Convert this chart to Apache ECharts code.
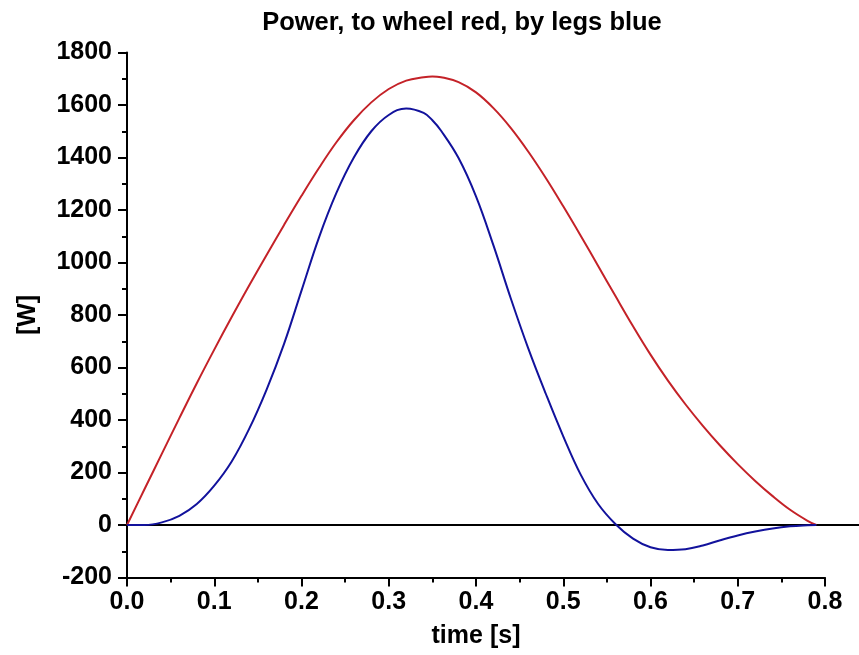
<!DOCTYPE html>
<html>
<head>
<meta charset="utf-8">
<script src="https://cdn.jsdelivr.net/npm/echarts@6/dist/echarts.min.js"></script>
<style>
html,body{margin:0;padding:0;background:#fff;}
#chart{width:859px;height:655px;}
</style>
</head>
<body>
<div id="chart"></div>
<script>
// time [s]
const timeValues = [0, 0.02, 0.04, 0.06, 0.08, 0.10, 0.12, 0.14, 0.16, 0.18, 0.20, 0.22, 0.24, 0.26, 0.28, 0.30, 0.32, 0.34, 0.35, 0.36, 0.38, 0.40, 0.42, 0.44, 0.46, 0.48, 0.50, 0.52, 0.54, 0.56, 0.58, 0.60, 0.62, 0.64, 0.66, 0.68, 0.70, 0.72, 0.74, 0.76, 0.78, 0.79];
// power to wheel [W] (red)
const wheelPower = [0, 136, 272, 407, 540, 668, 792, 912, 1029, 1143, 1254, 1360, 1458, 1542, 1610, 1661, 1693, 1706, 1709, 1706, 1687, 1648, 1588, 1512, 1422, 1322, 1214, 1102, 987, 871, 757, 649, 550, 460, 378, 302, 232, 168, 110, 58, 16, 0];
// power by legs [W] (blue)
const legPower = [0, 0, 10, 35, 80, 150, 242, 366, 516, 690, 893, 1095, 1265, 1400, 1500, 1562, 1587, 1570, 1542, 1502, 1398, 1252, 1065, 862, 672, 500, 338, 192, 80, 3, -52, -85, -95, -92, -78, -58, -40, -25, -13, -5, -1, 0];
const xTicks = {min: 0, max: 0.8, interval: 0.1};
const yTicks = {min: -200, max: 1800, interval: 200};

const font = "'Liberation Sans', Arial, sans-serif";
const chart = echarts.init(document.getElementById('chart'), null, {renderer: 'canvas'});

const redPts = timeValues.map((t, i) => [t, wheelPower[i]]);
const bluePts = timeValues.map((t, i) => [t, legPower[i]]);

const axisCommon = {
  axisLine: {show: true, onZero: false, lineStyle: {color: '#000', width: 2}},
  axisTick: {show: true, inside: false, length: 9, lineStyle: {color: '#000', width: 2}},
  minorTick: {show: true, splitNumber: 2, length: 5, lineStyle: {color: '#000', width: 2}},
  splitLine: {show: false},
  axisLabel: {color: '#000', fontSize: 25, fontFamily: font, fontWeight: 'bold'},
  nameTextStyle: {color: '#000', fontSize: 25, fontFamily: font, fontWeight: 'bold'}
};

chart.setOption({
  animation: false,
  backgroundColor: '#fff',
  title: {
    text: 'Power, to wheel red, by legs blue',
    left: 457,
    top: 5,
    textAlign: 'center',
    textStyle: {color: '#000', fontSize: 25.5, fontFamily: font, fontWeight: 'bold'}
  },
  grid: {left: 127, right: 34, top: 52.5, bottom: 77.5, containLabel: false},
  xAxis: Object.assign({}, axisCommon, {
    type: 'value',
    min: xTicks.min, max: xTicks.max, interval: xTicks.interval,
    name: 'time [s]',
    nameLocation: 'middle',
    nameGap: 46,
    axisLabel: Object.assign({}, axisCommon.axisLabel, {margin: 12, formatter: v => v.toFixed(1)})
  }),
  yAxis: Object.assign({}, axisCommon, {
    type: 'value',
    min: yTicks.min, max: yTicks.max, interval: yTicks.interval,
    name: '[W]',
    nameLocation: 'middle',
    nameGap: 86,
    nameRotate: 90,
    axisLabel: Object.assign({}, axisCommon.axisLabel, {margin: 15, formatter: v => String(v)})
  }),
  series: [
    {
      type: 'line', name: 'wheel', data: redPts, smooth: 0.4, showSymbol: false, z: 3,
      lineStyle: {color: '#c42228', width: 2}
    },
    {
      type: 'line', name: 'legs', data: bluePts, smooth: 0.4, showSymbol: false, z: 3,
      lineStyle: {color: '#12129c', width: 2}
    }
  ]
});

// zero line: from the y axis through the right edge of the picture
const p0 = chart.convertToPixel({gridIndex: 0}, [xTicks.min, 0]);
chart.setOption({
  graphic: [{
    type: 'line', z: 1,
    shape: {x1: p0[0], y1: p0[1], x2: chart.getWidth(), y2: p0[1]},
    style: {stroke: '#000', lineWidth: 2}
  }]
});
</script>
</body>
</html>
